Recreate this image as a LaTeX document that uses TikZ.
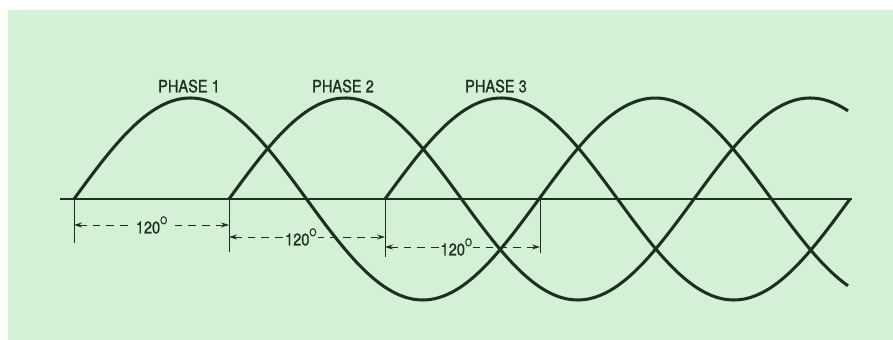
\documentclass[tikz,border=0pt]{standalone}
\usepackage{fontspec}
\newfontfamily\diagfont{TeX Gyre Heros}[FakeStretch=0.86, FakeBold=0.9]
\usepackage{tikz}
\usetikzlibrary{arrows.meta, positioning, calc}
\definecolor{bgmint}{HTML}{D3F1D7}
\definecolor{inkgreen}{HTML}{1C3022}

\begin{document}
\begin{tikzpicture}[
    x=0.3mm, y=0.3mm,
    node distance=1.2mm,
    wave/.style={draw=inkgreen, line width=2.6pt, line join=round},
    axisline/.style={draw=inkgreen, line width=1.1pt},
    tickline/.style={draw=inkgreen, line width=0.75pt},
    dimline/.style={{Stealth[length=2.4mm,width=1.5mm]}-{Stealth[length=2.4mm,width=1.5mm]}, draw=inkgreen, line width=0.75pt, dash pattern=on 2.3mm off 1.8mm},
    phaselabel/.style={font=\diagfont\fontsize{14.5}{16}\selectfont, text=inkgreen, inner sep=1pt},
    anglelabel/.style={font=\diagfont\fontsize{14.5}{16}\selectfont, text=inkgreen, fill=bgmint, inner sep=1.2pt}
]
\useasboundingbox (0,0) rectangle (893,340);
\fill[bgmint] (8,0) rectangle (893,330);

% zero line
\coordinate (axl) at (60,141);
\coordinate (axr) at (852,141);
\draw[axisline] (axl) -- (axr);

% the three phases (period 465 px)
\draw[wave] plot[domain=74:848, samples=220, smooth] ({\x},{141+101*sin((\x-74)*0.774194)});
\draw[wave] plot[domain=229:848, samples=180, smooth] ({\x},{141+101*sin((\x-229)*0.774194)});
\draw[wave] plot[domain=385:850, samples=140, smooth] ({\x},{141+101*sin((\x-385)*0.774194)});

% peaks and labels
\coordinate (pk1) at (189,242);
\coordinate (pk2) at (343,242);
\coordinate (pk3) at (496,242);
\node[phaselabel, above=of pk1] (ph1) {PHASE 1};
\node[phaselabel, above=of pk2] (ph2) {PHASE 2};
\node[phaselabel, above=of pk3] (ph3) {PHASE 3};

% 120 degree spacing
\coordinate (s1) at (74,141);
\coordinate (s2) at (229,141);
\coordinate (s3) at (385,141);
\coordinate (s4) at (540,141);
\coordinate (t1) at (74,97);
\coordinate (t2) at (229,88);
\coordinate (t3) at (385,83);
\coordinate (t4) at (540,87);
\foreach \i in {1,...,4}
    \draw[tickline] (s\i) -- (t\i);

\newcommand{\degsign}{\raisebox{1.05ex}{\fontsize{9}{9}\selectfont O}}
\draw[dimline] (74,115) -- node[anglelabel] (d1) {120\degsign} (229,115);
\draw[dimline] (229,103) -- node[anglelabel, pos=0.46] (d2) {120\degsign} (385,103);
\draw[dimline] (385,93) -- node[anglelabel, pos=0.46] (d3) {120\degsign} (540,93);
\end{tikzpicture}
\end{document}
